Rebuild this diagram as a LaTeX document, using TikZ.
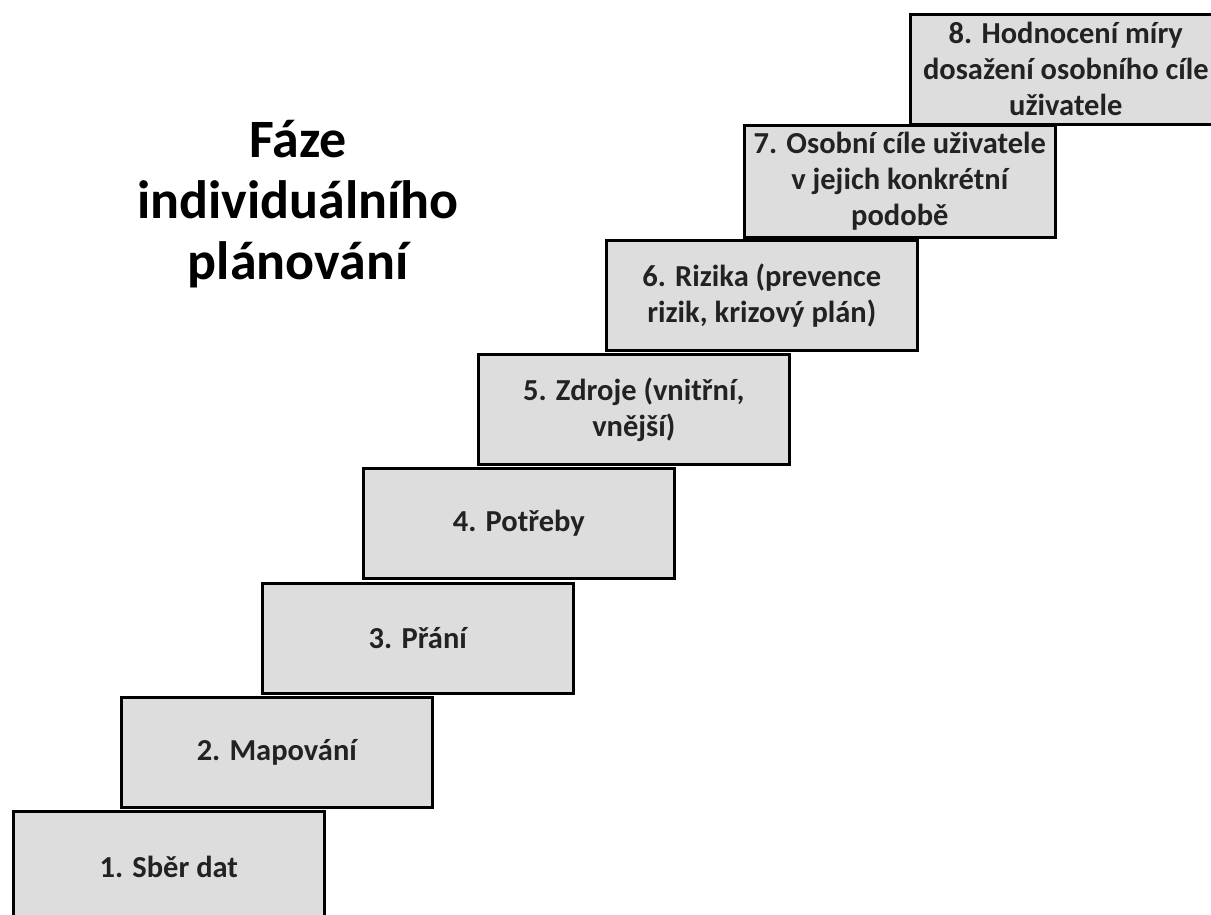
\documentclass[tikz,border=0pt]{standalone}
\usepackage{fontspec}
\setmainfont{Carlito}
\definecolor{boxgray}{HTML}{DDDDDD}
\definecolor{txt}{HTML}{222222}
\begin{document}
\begin{tikzpicture}[x=1pt,y=-1pt,
  stepbox/.style={draw=black, line width=2.6pt, fill=boxgray,
    minimum width=311pt, minimum height=110pt, inner sep=0pt,
    align=center, text=txt, anchor=north west,
    font=\fontsize{30.5}{36}\selectfont\bfseries},
  titletext/.style={align=center, text=black, inner sep=0pt,
    font=\fontsize{54}{61}\selectfont\bfseries}]
\useasboundingbox (0,0) rectangle (1211,915);
\clip (0,0) rectangle (1211,915);
\fill[white] (0,0) rectangle (1211,915);
\node[stepbox, minimum height=112pt] (s1) at (12,810) {1. Sběr dat};
\node[stepbox] (s2) at (120,696) {2. Mapování};
\node[stepbox] (s3) at (261,582) {3. Přání};
\node[stepbox] (s4) at (362,467) {4. Potřeby};
\node[stepbox] (s5) at (477,353) {5. Zdroje (vnitřní,\\vnější)};
\node[stepbox] (s6) at (605,239) {6. Rizika (prevence\\rizik, krizový plán)};
\node[stepbox, minimum height=112pt] (s7) at (743,124) {7. Osobní cíle uživatele\\v jejich konkrétní\\podobě};
\node[stepbox] (s8) at (909,13) {8. Hodnocení míry\\dosažení osobního cíle\\uživatele};
\node[titletext] (title) at (298,204) {Fáze\\individuálního\\plánování};
\end{tikzpicture}
\end{document}
